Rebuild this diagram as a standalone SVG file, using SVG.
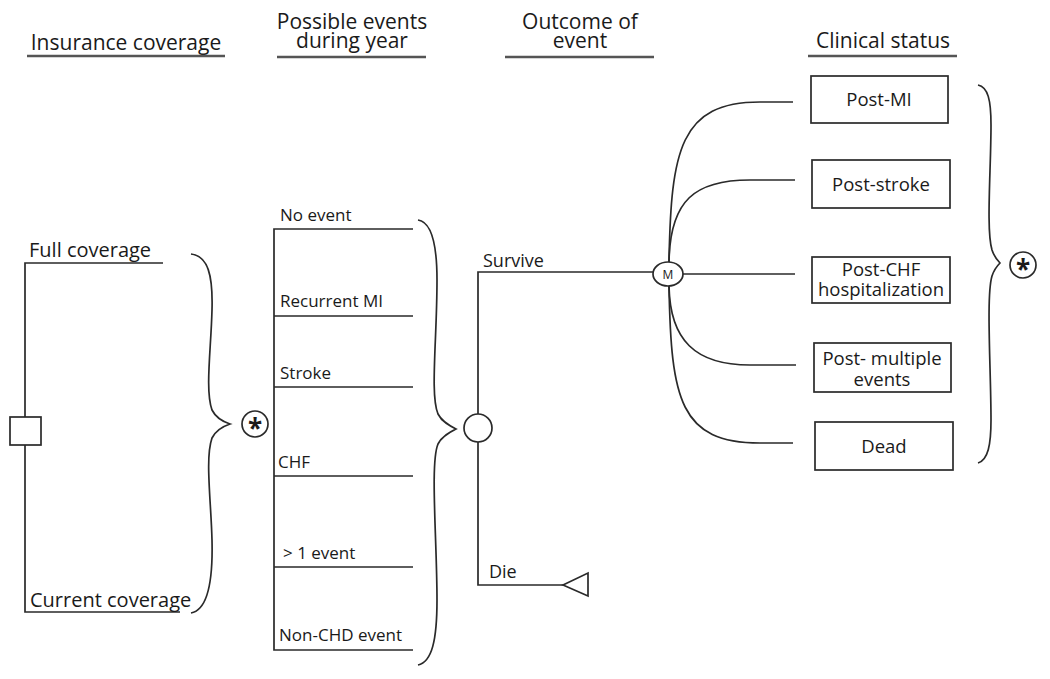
<svg xmlns="http://www.w3.org/2000/svg" width="1050" height="679" viewBox="0 0 1050 679">
<style>
text{font-family:"Open Sans","Liberation Sans",sans-serif;fill:#1a1a1a}
.h{font-size:21px;text-anchor:middle}
.c{font-size:20px}
.l{font-size:17px}
.b{font-size:18.5px;text-anchor:middle}
.ln{stroke:#2a2a2a;stroke-width:1.7;fill:none}
.sh{stroke:#2a2a2a;stroke-width:1.7;fill:#fff}
.ul{stroke:#555;stroke-width:2.4}
.st{font-size:26px;font-weight:bold;text-anchor:middle}
</style>
<rect width="1050" height="679" fill="#fff"/>
<g id="headers">
<text class="h" x="126" y="50">Insurance coverage</text>
<line class="ul" x1="27" y1="56" x2="225" y2="56"/>
<text class="h" x="352" y="29">Possible events</text>
<text class="h" x="352" y="48">during year</text>
<line class="ul" x1="277" y1="57" x2="426" y2="57"/>
<text class="h" x="580" y="29">Outcome of</text>
<text class="h" x="580" y="48">event</text>
<line class="ul" x1="505" y1="57" x2="654" y2="57"/>
<text class="h" x="883" y="48">Clinical status</text>
<line class="ul" x1="808" y1="56" x2="957" y2="56"/>
</g>
<g id="connectors">
<path class="ln" d="M163,263 H25 V612 H180"/>
<path class="ln" d="M413,229 H274 V650 H413 M274,316 H413 M274,387 H413 M274,476 H413 M274,567 H413"/>
<path class="ln" d="M653,272 H478 V585 H563"/>
<path class="ln" d="M669,262 C671,150 680,102 760,102 L793,102"/>
<path class="ln" d="M669,262 C670,200 695,180 750,180 L795,180"/>
<path class="ln" d="M683,274 L795,274"/>
<path class="ln" d="M669,286 C670,340 695,365 750,365 L796,365"/>
<path class="ln" d="M669,286 C671,400 680,443 760,443 L793,443"/>
<path class="ln" d="M191,254 C208,256 213,275 212,310 C211,350 205,390 212,410 C216,418 224,422 230,424 C224,426 216,430 212,438 C205,458 211,500 212,540 C213,580 208,610 191,613"/>
<path class="ln" d="M418,220 C432,222 437,245 437,280 C437,340 430,395 438,414 C442,422 450,426 456,429 C450,432 442,436 438,444 C430,463 437,540 437,600 C437,640 432,662 418,665"/>
<path class="ln" d="M978,85 C988,87 991,100 991,125 C991,170 986,230 992,250 C994,256 997,260 1000,263 C997,266 994,270 992,276 C986,296 991,370 991,420 C991,445 988,460 978,463"/>
</g>
<g id="labels">
<text class="c" x="29" y="257">Full coverage</text>
<text class="c" x="30" y="607">Current coverage</text>
<text class="l" x="280" y="221">No event</text>
<text class="l" x="280" y="307">Recurrent MI</text>
<text class="l" x="280" y="379">Stroke</text>
<text class="l" x="278" y="468">CHF</text>
<text class="l" x="283" y="559">&gt; 1 event</text>
<text class="l" x="279" y="641">Non-CHD event</text>
<text class="l" x="483" y="267" style="font-size:18px">Survive</text>
<text class="l" x="489" y="578" style="font-size:18px">Die</text>
</g>
<g id="decision"><rect class="sh" x="10" y="417" width="31" height="28"/></g>
<g id="star1"><circle class="sh" cx="255" cy="424" r="13"/><text class="st" x="255" y="438">*</text></g>
<g id="chance"><circle class="sh" cx="478" cy="428" r="14"/></g>
<g id="markov"><ellipse class="sh" cx="668" cy="274" rx="15" ry="12"/><text x="668" y="279" style="font-size:12px;text-anchor:middle">M</text></g>
<g id="terminal"><polygon class="sh" points="563,585 588,573 588,596"/></g>
<g id="post-mi"><rect class="sh" x="811" y="76" width="137" height="47"/><text class="b" x="879" y="106">Post-MI</text></g>
<g id="post-stroke"><rect class="sh" x="812" y="160" width="138" height="48"/><text class="b" x="881" y="191">Post-stroke</text></g>
<g id="post-chf"><rect class="sh" x="812" y="257" width="138" height="46"/><text class="b" x="881" y="276">Post-CHF</text><text class="b" x="881" y="296">hospitalization</text></g>
<g id="post-multiple"><rect class="sh" x="814" y="343" width="137" height="49"/><text class="b" x="882" y="365">Post- multiple</text><text class="b" x="882" y="386">events</text></g>
<g id="dead"><rect class="sh" x="815" y="422" width="138" height="48"/><text class="b" x="884" y="453">Dead</text></g>
<g id="star2"><circle class="sh" cx="1023" cy="265" r="13"/><text class="st" x="1023" y="279">*</text></g>
</svg>
